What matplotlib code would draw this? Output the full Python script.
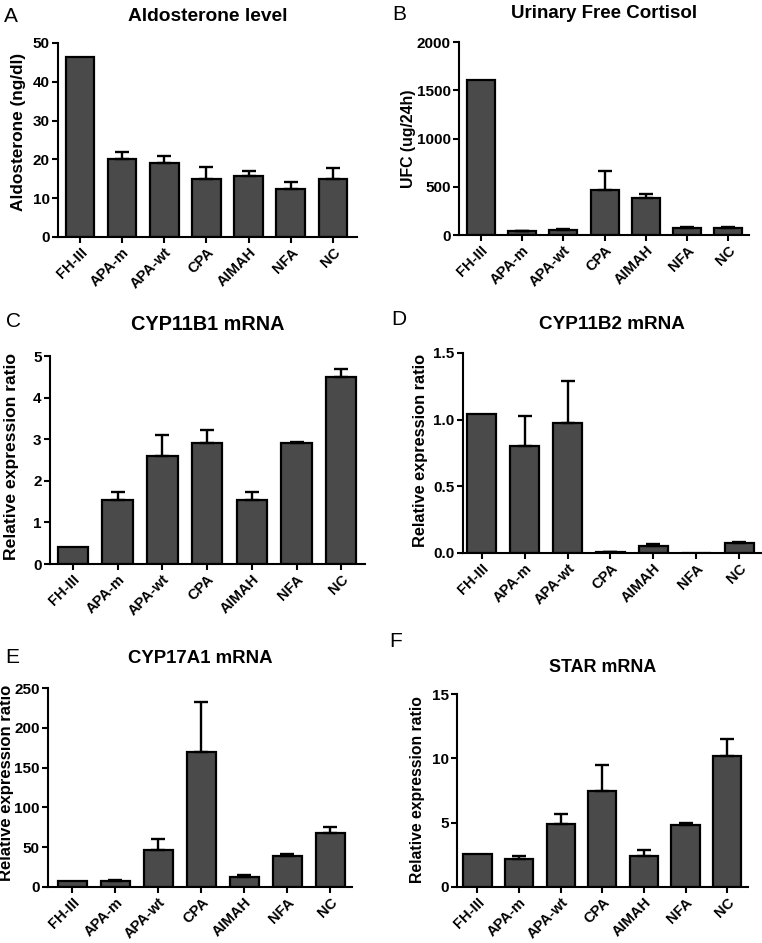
import numpy as np
import matplotlib
matplotlib.use("Agg")
import matplotlib.pyplot as plt

plt.rcParams['font.family'] = ['Liberation Sans', 'DejaVu Sans']

categories = ["FH-III", "APA-m", "APA-wt", "CPA", "AIMAH", "NFA", "NC"]

# Panel A: Aldosterone
aldo_mean = [46.3, 20.0, 19.0, 15.0, 15.8, 12.5, 15.0]
aldo_top = [46.3, 22.0, 21.0, 18.0, 17.0, 14.2, 17.8]
# Panel B: UFC
ufc_mean = [1610, 40, 50, 470, 385, 70, 70]
ufc_top = [1610, 45, 60, 660, 425, 78, 80]
# Panel C: CYP11B1
b1_mean = [0.40, 1.55, 2.60, 2.90, 1.55, 2.90, 4.50]
b1_top = [0.40, 1.73, 3.10, 3.22, 1.72, 2.93, 4.68]
# Panel D: CYP11B2
b2_mean = [1.04, 0.80, 0.975, 0.005, 0.05, 0.0, 0.075]
b2_top = [1.04, 1.03, 1.29, 0.008, 0.065, 0.0, 0.085]
# Panel E: CYP17A1
a1_mean = [8.0, 7.0, 47.0, 170.0, 13.0, 39.0, 68.0]
a1_top = [8.0, 8.5, 60.0, 232.0, 14.5, 42.0, 75.0]
# Panel F: STAR
star_mean = [2.55, 2.15, 4.90, 7.45, 2.40, 4.80, 10.2]
star_top = [2.55, 2.40, 5.65, 9.50, 2.90, 5.00, 11.5]

W, H = 762, 943
fig = plt.figure(figsize=(W / 100, H / 100), dpi=100)

panels = [
    dict(letter="A", title="Aldosterone level", ylabel="Aldosterone (ng/dl)",
         mean=aldo_mean, top=aldo_top, ylim=(0, 50), ticks=[0, 10, 20, 30, 40, 50],
         fmt="{:.0f}", box=(58, 357, 43, 237), xlim=(-0.52, 6.57),
         title_y=21, title_fs=13.8, letter_xy=(4, 22),
         ylab_xy=(19, 132), ylab_fs=12.4),
    dict(letter="B", title="Urinary Free Cortisol", ylabel="UFC (ug/24h)",
         mean=ufc_mean, top=ufc_top, ylim=(0, 2000), ticks=[0, 500, 1000, 1500, 2000],
         fmt="{:.0f}", box=(459, 749, 42, 235), xlim=(-0.53, 6.5),
         title_y=18, title_fs=13.5, letter_xy=(392, 20),
         ylab_xy=(408, 139), ylab_fs=11.4),
    dict(letter="C", title="CYP11B1 mRNA", ylabel="Relative expression ratio",
         mean=b1_mean, top=b1_top, ylim=(0, 5), ticks=[0, 1, 2, 3, 4, 5],
         fmt="{:.0f}", box=(50, 365, 356, 564), xlim=(-0.51, 6.53),
         title_y=330, title_fs=14.3, letter_xy=(6, 327),
         ylab_xy=(12, 456), ylab_fs=12.6),
    dict(letter="D", title="CYP11B2 mRNA", ylabel="Relative expression ratio",
         mean=b2_mean, top=b2_top, ylim=(0, 1.5), ticks=[0, 0.5, 1.0, 1.5],
         fmt="{:.1f}", box=(463, 761, 353, 553), xlim=(-0.44, 6.51),
         title_y=329, title_fs=13.6, letter_xy=(391, 325),
         ylab_xy=(420, 450), ylab_fs=11.8),
    dict(letter="E", title="CYP17A1 mRNA", ylabel="Relative expression ratio",
         mean=a1_mean, top=a1_top, ylim=(0, 250), ticks=[0, 50, 100, 150, 200, 250],
         fmt="{:.0f}", box=(48, 352, 688, 887), xlim=(-0.57, 6.51),
         title_y=663, title_fs=13.4, letter_xy=(5, 663),
         ylab_xy=(7, 783), ylab_fs=12.0),
    dict(letter="F", title="STAR mRNA", ylabel="Relative expression ratio",
         mean=star_mean, top=star_top, ylim=(0, 15), ticks=[0, 5, 10, 15],
         fmt="{:.0f}", box=(457, 748, 694, 887), xlim=(-0.49, 6.5),
         title_y=672, title_fs=12.9, letter_xy=(389, 647),
         ylab_xy=(418, 790), ylab_fs=11.3),
]

x = np.arange(len(categories))
for p in panels:
    l, r, t, b = p["box"]
    ax = fig.add_axes([l / W, 1 - b / H, (r - l) / W, (b - t) / H])
    mean = np.array(p["mean"], dtype=float)
    top = np.array(p["top"], dtype=float)
    ax.bar(x, mean, width=0.68, color="#4a4a4a", edgecolor="black", linewidth=1.6, zorder=2)
    up = top - mean
    mask = up > 0
    ax.errorbar(x[mask], mean[mask], yerr=[np.zeros(mask.sum()), up[mask]],
                fmt="none", ecolor="black", elinewidth=1.7, capsize=4.7,
                capthick=1.7, zorder=3)
    ax.set_xlim(*p["xlim"])
    ax.set_ylim(*p["ylim"])
    ax.set_yticks(p["ticks"])
    ax.set_yticklabels([p["fmt"].format(v) for v in p["ticks"]],
                       fontsize=11, fontweight="bold")
    ax.set_xticks(x)
    ax.set_xticklabels(categories, rotation=45, ha="right", rotation_mode="anchor",
                       fontsize=10.5, fontweight="bold")
    ax.tick_params(axis="both", direction="out", length=4, width=1.5, pad=2)
    for s in ["top", "right"]:
        ax.spines[s].set_visible(False)
    for s in ["left", "bottom"]:
        ax.spines[s].set_linewidth(1.5)
    yx, yy = p["ylab_xy"]
    fig.text(yx / W, 1 - yy / H, p["ylabel"], rotation=90, ha="center", va="center",
             fontsize=p["ylab_fs"], fontweight="bold")
    cx = (l + r) / 2 / W
    fig.text(cx, 1 - p["title_y"] / H, p["title"], ha="center", va="baseline",
             fontsize=p["title_fs"], fontweight="bold")
    lx, ly = p["letter_xy"]
    fig.text(lx / W, 1 - ly / H, p["letter"], ha="left", va="baseline", fontsize=15)

fig.savefig("out.png", dpi=100)
